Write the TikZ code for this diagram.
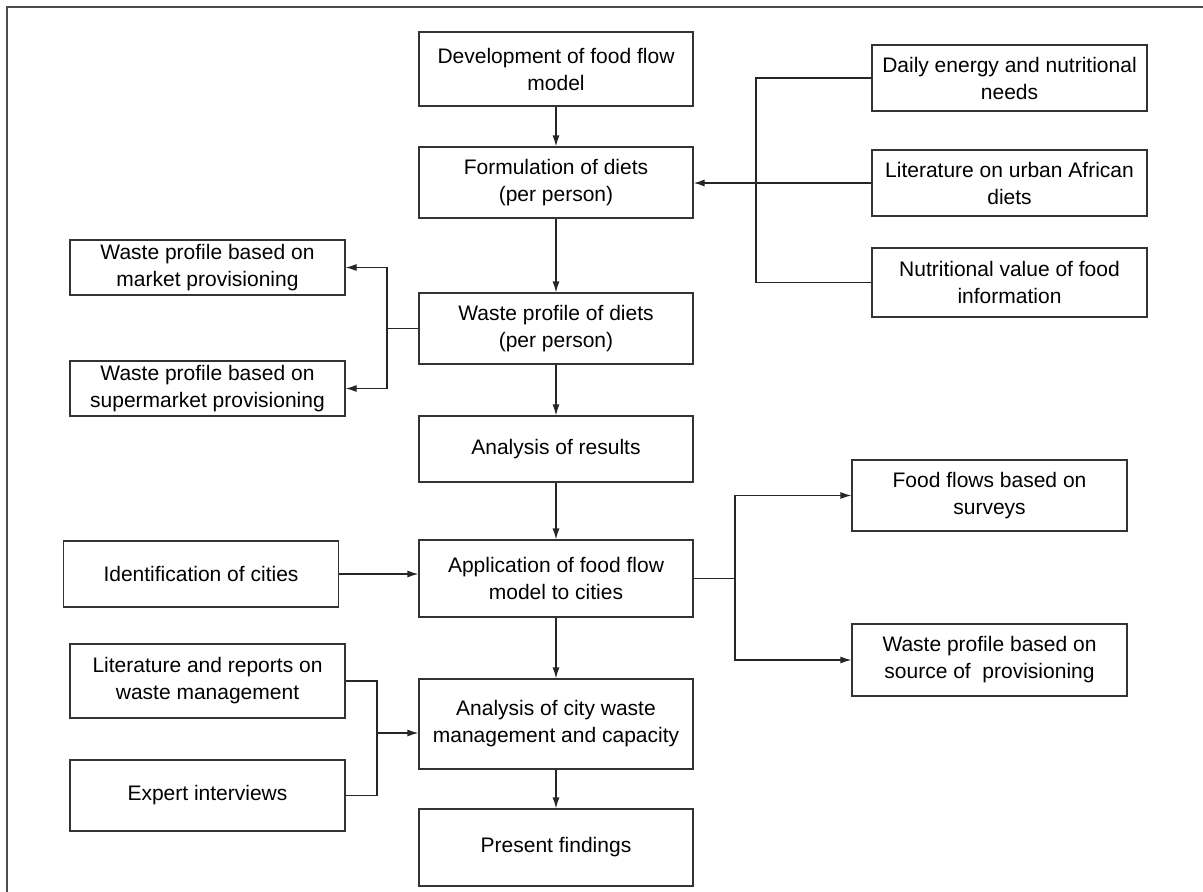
\documentclass[tikz,border=0pt]{standalone}
\usepackage{fontspec}
\setmainfont{Liberation Sans}
\usetikzlibrary{arrows.meta}
\tikzset{
  box/.style={draw=black!80, line width=1.2pt, align=center, inner sep=2pt,
    font=\fontsize{21}{27}\selectfont},
  flow/.style={draw=black!85, line width=1.2pt},
}
\begin{document}
\begin{tikzpicture}[x=1pt, y=1pt, >={Latex[length=11pt,width=7pt]}]
            \useasboundingbox (0,0) rectangle (1203,-892);
            \draw[black!70, line width=1.3pt] (7,-892) -- (7,-7) -- (1203,-7);

            % Nodes with manual coordinates
            \node[box, minimum width=274, minimum height=74] (dev) at (556,-69) {Development of food flow\\model};
            \node[box, minimum width=274, minimum height=71] (form) at (556,-182.5) {Formulation of diets\\(per person)};
            \node[box, minimum width=274, minimum height=71] (wdiet) at (556,-328.5) {Waste profile of diets\\(per person)};
            \node[box, minimum width=274, minimum height=66] (res) at (556,-449) {Analysis of results};
            \node[box, minimum width=274, minimum height=77] (app) at (556,-578.5) {Application of food flow\\model to cities};
            \node[box, minimum width=274, minimum height=90] (city) at (556,-724) {Analysis of city waste\\management and capacity};
            \node[box, minimum width=274, minimum height=77] (pres) at (556,-847.5) {Present findings};

            \node[box, minimum width=275, minimum height=66] (daily) at (1009.5,-78) {Daily energy and nutritional\\needs};
            \node[box, minimum width=275, minimum height=66] (lit) at (1009.5,-183) {Literature on urban African\\diets};
            \node[box, minimum width=275, minimum height=69] (nutr) at (1009.5,-282.5) {Nutritional value of food\\information};

            \node[box, minimum width=275, minimum height=55] (market) at (207.5,-267.5) {Waste profile based on\\market provisioning};
            \node[box, minimum width=275, minimum height=55] (super) at (207.5,-388.5) {Waste profile based on\\supermarket provisioning};
            \node[box, minimum width=275, minimum height=66] (ident) at (201,-574) {Identification of cities};
            \node[box, minimum width=275, minimum height=74] (litrep) at (207.5,-681) {Literature and reports on\\waste management};
            \node[box, minimum width=275, minimum height=71] (expert) at (207.5,-795.5) {Expert interviews};

            \node[box, minimum width=275, minimum height=71] (ffs) at (989.5,-495.5) {Food flows based on\\surveys};
            \node[box, minimum width=275, minimum height=72] (src) at (989.5,-660) {Waste profile based on\\source of~~provisioning};

            % Junctions
            \coordinate (rj) at (756,-183);
            \coordinate (lj) at (387,-328.5);
            \coordinate (aj) at (735,-578.5);
            \coordinate (cj) at (377,-733);

            % Edges
            \draw[flow, ->] (dev) -- (form);
            \draw[flow, ->] (form) -- (wdiet);
            \draw[flow, ->] (wdiet) -- (res);
            \draw[flow, ->] (res) -- (app);
            \draw[flow, ->] (app) -- (city);
            \draw[flow, ->] (city) -- (pres);

            \draw[flow] (daily.west) -| (rj) |- (nutr.west);
            \draw[flow, ->] (lit.west) -- (lit.west -| form.east);

            \draw[flow] (wdiet.west) -- (lj);
            \draw[flow, ->] (lj) |- (market.east);
            \draw[flow, ->] (lj) |- (super.east);

            \draw[flow, ->] (ident.east) -- (ident.east -| app.west);

            \draw[flow] (app.east) -- (aj);
            \draw[flow, ->] (aj) |- (ffs.west);
            \draw[flow, ->] (aj) |- (src.west);

            \draw[flow] (litrep.east) -| (cj) |- (expert.east);
            \draw[flow, ->] (cj) -- (cj -| city.west);
        \end{tikzpicture}
\end{document}
